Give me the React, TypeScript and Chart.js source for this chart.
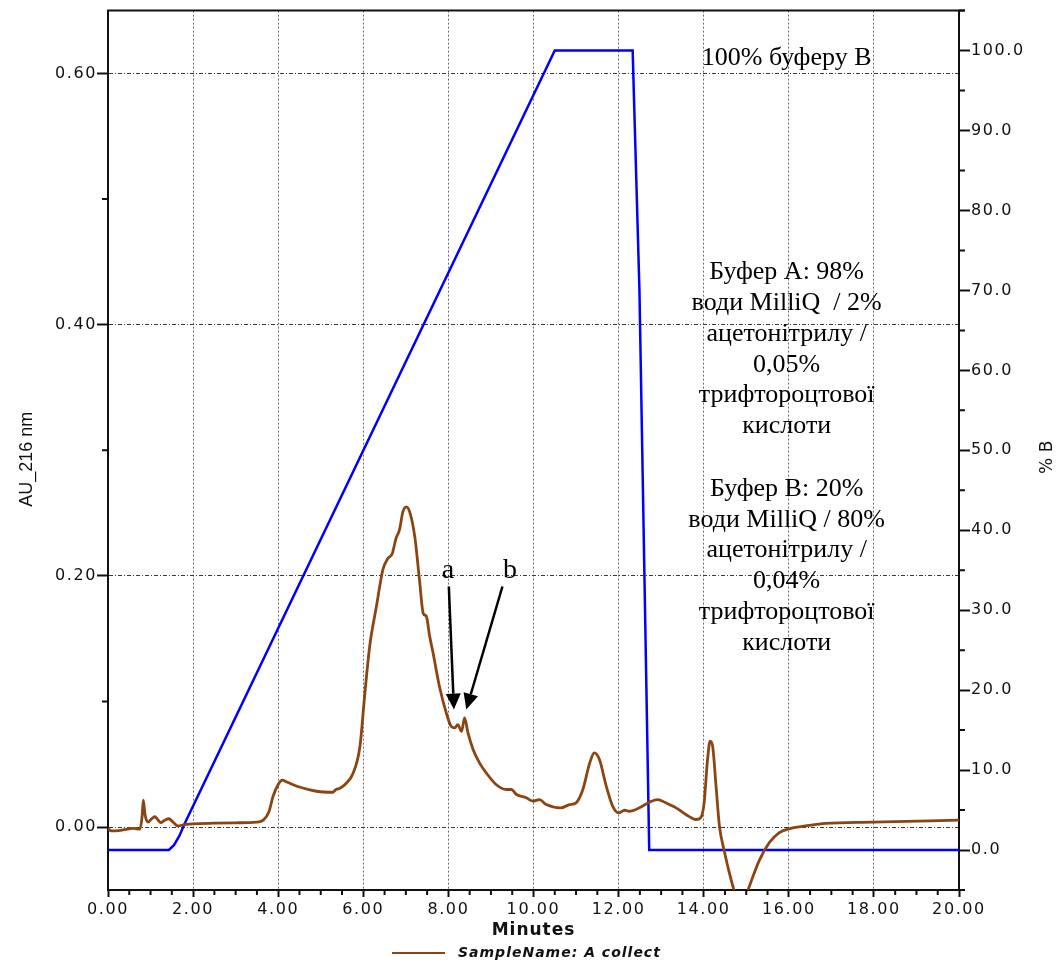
import React, { useEffect, useRef } from 'react';
import { Chart, registerables } from 'chart.js';

Chart.register(...registerables);

// Absorbance trace (AU at 216 nm) vs time (minutes)
const auTime = [
  0.0, 0.08, 0.3, 0.6, 0.75, 0.8, 0.83, 0.87, 0.94, 1.02, 1.1, 1.17, 1.24, 1.33, 1.43, 1.53, 1.64, 1.8,
  2.0, 2.5, 3.0, 3.49, 3.65, 3.78, 3.88, 4.0, 4.1, 4.2, 4.5, 4.9, 5.28, 5.36, 5.45, 5.6, 5.76, 5.92,
  6.03, 6.15, 6.31, 6.46, 6.58, 6.68, 6.74, 6.77, 6.85, 6.93, 7.01, 7.09, 7.21, 7.32, 7.41, 7.48, 7.56,
  7.64, 7.79, 7.95, 8.07, 8.15, 8.22, 8.31, 8.38, 8.46, 8.58, 8.73, 8.89, 9.12, 9.36, 9.48, 9.6, 9.83,
  9.99, 10.14, 10.3, 10.64, 10.85, 11.0, 11.16, 11.32, 11.43, 11.55, 11.71, 11.86, 12.0, 12.14, 12.25,
  12.49, 12.72, 12.92, 13.11, 13.35, 13.58, 13.82, 13.93, 14.01, 14.09, 14.15, 14.21, 14.29, 14.37,
  14.49, 14.6, 14.72, 14.87, 15.03, 15.3, 15.54, 15.77, 16.0, 16.48, 16.87, 17.96, 20.0,
];
const auValue = [
  -0.001, -0.003, -0.0025, -0.001, -0.0015, 0.008, 0.0215, 0.01, 0.004, 0.0065, 0.0083, 0.006, 0.0037,
  0.0055, 0.0067, 0.004, 0.001, 0.002, 0.0027, 0.0032, 0.0035, 0.004, 0.0056, 0.012, 0.0246, 0.034,
  0.0374, 0.036, 0.032, 0.0286, 0.0278, 0.03, 0.031, 0.035, 0.043, 0.064, 0.104, 0.144, 0.176, 0.205,
  0.214, 0.2176, 0.226, 0.23, 0.2367, 0.251, 0.255, 0.251, 0.2313, 0.197, 0.17, 0.168, 0.152, 0.1386,
  0.112, 0.091, 0.08, 0.079, 0.0816, 0.0763, 0.087, 0.075, 0.0618, 0.0512, 0.0432, 0.034, 0.03, 0.03,
  0.026, 0.0234, 0.0207, 0.022, 0.018, 0.0154, 0.018, 0.0194, 0.03, 0.051, 0.0591, 0.0538, 0.0326,
  0.0167, 0.0114, 0.0135, 0.0127, 0.0154, 0.0199, 0.022, 0.0194, 0.0154, 0.0101, 0.0061, 0.0075, 0.0194,
  0.0538, 0.0684, 0.0644, 0.0326, 0.0008, -0.02, -0.036, -0.051, -0.065, -0.051, -0.027, -0.0124,
  -0.0045, -0.0013, 0.0014, 0.003, 0.004, 0.0056,
];

// Gradient program (% buffer B) vs time
const gradTime = [0, 1.43, 1.55, 1.68, 1.8, 10.5, 12.33, 12.49, 12.72, 20];
const gradPercent = [0, 0, 0.6, 1.8, 3.3, 100, 100, 70, 0, 0];

// Axis ticks
const xTicks = [0, 2, 4, 6, 8, 10, 12, 14, 16, 18, 20];
const xMinorTicks = [0.5, 1, 1.5, 2.5, 3, 3.5, 4.5, 5, 5.5, 6.5, 7, 7.5, 8.5, 9, 9.5, 10.5, 11, 11.5, 12.5, 13, 13.5, 14.5, 15, 15.5, 16.5, 17, 17.5, 18.5, 19, 19.5];
const auTicks = [0, 0.2, 0.4, 0.6];
const auMinorTicks = [0.1, 0.3, 0.5];
const pctTicks = [0, 10, 20, 30, 40, 50, 60, 70, 80, 90, 100];
const pctMinorTicks = [-5, 5, 15, 25, 35, 45, 55, 65, 75, 85, 95, 105];

// Text annotations
const topNote = '100% буферу В';
const bufferANote = ['Буфер А: 98%', 'води MilliQ  / 2%', 'ацетонітрилу /', '0,05%', 'трифтороцтової', 'кислоти'];
const bufferBNote = ['Буфер В: 20%', 'води MilliQ / 80%', 'ацетонітрилу /', '0,04%', 'трифтороцтової', 'кислоти'];
const peakLabels = ['a', 'b'];
const peakLabelTime = [7.99, 9.45];
const peakLabelAU = [0.1985, 0.1985];
const arrowFromTime = [8.01, 9.27];
const arrowFromAU = [0.1916, 0.1916];
const arrowToTime = [8.13, 8.42];
const arrowToAU = [0.0936, 0.0936];

const BROWN = '#8B4513';
const BLUE = '#0000FF';
const TICK_FONT = { family: "'DejaVu Sans', sans-serif", size: 16 };
const TICK_SPACING = '1.6px';

const decorPlugin = {
  id: 'decor',
  beforeLayout(chart: any) {
    chart.ctx.letterSpacing = TICK_SPACING;
  },
  beforeDraw(chart: any) {
    chart.ctx.letterSpacing = TICK_SPACING;
  },
  afterDraw(chart: any) {
    const ctx: CanvasRenderingContext2D = chart.ctx;
    const { left, right, top, bottom } = chart.chartArea;
    const xs = chart.scales.x;
    const ys = chart.scales.y;
    const ys1 = chart.scales.y1;
    ctx.save();
    (ctx as any).letterSpacing = '0px';

    // top frame
    ctx.strokeStyle = '#111';
    ctx.lineWidth = 2;
    ctx.beginPath();
    ctx.moveTo(left - 1, top);
    ctx.lineTo(right + 6, top);
    ctx.stroke();

    // minor ticks
    ctx.beginPath();
    xMinorTicks.forEach((v) => {
      const px = xs.getPixelForValue(v);
      ctx.moveTo(px, bottom);
      ctx.lineTo(px, bottom + 5);
    });
    auMinorTicks.forEach((v) => {
      const py = ys.getPixelForValue(v);
      ctx.moveTo(left, py);
      ctx.lineTo(left - 6, py);
    });
    pctMinorTicks.forEach((v) => {
      const py = ys1.getPixelForValue(v);
      ctx.moveTo(right, py);
      ctx.lineTo(right + 6, py);
    });
    ctx.stroke();

    // axis titles
    ctx.fillStyle = '#111';
    ctx.textAlign = 'center';
    ctx.textBaseline = 'middle';
    ctx.save();
    ctx.translate(27, (top + bottom) / 2 + 9);
    ctx.rotate(-Math.PI / 2);
    ctx.font = "18px 'Liberation Sans Narrow', 'Liberation Sans', sans-serif";
    ctx.fillText('AU_216 nm', 0, 0);
    ctx.restore();

    ctx.save();
    ctx.translate(1048, (top + bottom) / 2 + 7);
    ctx.rotate(-Math.PI / 2);
    ctx.font = "17px 'DejaVu Sans', sans-serif";
    ctx.fillText('% B', 0, 0);
    ctx.restore();

    ctx.save();
    (ctx as any).letterSpacing = '1px';
    ctx.font = "bold 17px 'DejaVu Sans', sans-serif";
    ctx.fillText('Minutes', (left + right) / 2, bottom + 41);
    ctx.restore();

    // legend
    ctx.strokeStyle = BROWN;
    ctx.lineWidth = 2;
    ctx.beginPath();
    ctx.moveTo(392, bottom + 63);
    ctx.lineTo(445, bottom + 63);
    ctx.stroke();
    ctx.save();
    (ctx as any).letterSpacing = '1px';
    ctx.textAlign = 'left';
    ctx.font = "italic bold 14px 'DejaVu Sans', sans-serif";
    ctx.fillStyle = '#111';
    ctx.fillText('SampleName: A collect', 458, bottom + 63);
    ctx.restore();

    // buffer notes
    ctx.fillStyle = '#000';
    ctx.font = "26px 'Liberation Serif', 'Times New Roman', serif";
    const noteX = xs.getPixelForValue(15.95);
    ctx.fillText(topNote, noteX, ys.getPixelForValue(0.612));
    const lh = 30.8;
    const aTop = ys.getPixelForValue(0.4417);
    bufferANote.forEach((s, i) => ctx.fillText(s, noteX, aTop + i * lh));
    const bTop = ys.getPixelForValue(0.2692);
    bufferBNote.forEach((s, i) => ctx.fillText(s, noteX, bTop + i * lh));

    // peak labels and arrows
    ctx.font = "28px 'Liberation Serif', 'Times New Roman', serif";
    ctx.textBaseline = 'alphabetic';
    peakLabels.forEach((s, i) => {
      ctx.fillStyle = '#000';
      ctx.fillText(s, xs.getPixelForValue(peakLabelTime[i]), ys.getPixelForValue(peakLabelAU[i]));
      const x1 = xs.getPixelForValue(arrowFromTime[i]);
      const y1 = ys.getPixelForValue(arrowFromAU[i]);
      const x2 = xs.getPixelForValue(arrowToTime[i]);
      const y2 = ys.getPixelForValue(arrowToAU[i]);
      const ang = Math.atan2(y2 - y1, x2 - x1);
      const headLen = 16;
      const headW = 7.5;
      const bx = x2 - headLen * Math.cos(ang);
      const by = y2 - headLen * Math.sin(ang);
      ctx.strokeStyle = '#000';
      ctx.lineWidth = 2.5;
      ctx.beginPath();
      ctx.moveTo(x1, y1);
      ctx.lineTo(bx, by);
      ctx.stroke();
      ctx.beginPath();
      ctx.moveTo(x2, y2);
      ctx.lineTo(bx + headW * Math.sin(ang), by - headW * Math.cos(ang));
      ctx.lineTo(bx - headW * Math.sin(ang), by + headW * Math.cos(ang));
      ctx.closePath();
      ctx.fill();
    });

    ctx.restore();
    (ctx as any).letterSpacing = TICK_SPACING;
  },
};

const transparent = 'rgba(0,0,0,0)';

export default function App() {
  const ref = useRef<HTMLCanvasElement>(null);

  useEffect(() => {
    const canvas = ref.current;
    if (!canvas) return;
    const chart = new Chart(canvas, {
      type: 'line',
      data: {
        datasets: [
          {
            label: 'SampleName: A collect',
            data: auTime.map((t, i) => ({ x: t, y: auValue[i] })),
            yAxisID: 'y',
            borderColor: BROWN,
            borderWidth: 2.8,
            pointRadius: 0,
            cubicInterpolationMode: 'monotone',
            fill: false,
          },
          {
            label: '% B',
            data: gradTime.map((t, i) => ({ x: t, y: gradPercent[i] })),
            yAxisID: 'y1',
            borderColor: BLUE,
            borderWidth: 2.5,
            pointRadius: 0,
            tension: 0,
            fill: false,
          },
        ],
      },
      options: {
        animation: false,
        responsive: false,
        maintainAspectRatio: false,
        devicePixelRatio: 1,
        layout: { padding: { top: 10, left: 0, right: 0, bottom: 0 } },
        plugins: { legend: { display: false }, tooltip: { enabled: false } },
        elements: { point: { radius: 0 } },
        scales: {
          x: {
            type: 'linear',
            position: 'bottom',
            min: 0,
            max: 20,
            afterBuildTicks: (axis: any) => {
              axis.ticks = xTicks.map((v) => ({ value: v }));
            },
            afterFit: (axis: any) => {
              axis.height = 73;
            },
            ticks: {
              callback: (v: any) => Number(v).toFixed(2),
              font: TICK_FONT,
              color: '#111',
              padding: 3,
              maxRotation: 0,
              autoSkip: false,
            },
            grid: {
              color: (c: any) => (c.tick && (c.tick.value === 0 || c.tick.value === 20) ? transparent : '#6a6a6a'),
              lineWidth: 1,
              tickLength: 7,
              tickWidth: 2,
              tickColor: '#111',
              tickBorderDash: [],
            },
            border: { display: true, color: '#111', width: 2, dash: [2, 2] },
          },
          y: {
            type: 'linear',
            position: 'left',
            min: -0.05,
            max: 0.65,
            afterBuildTicks: (axis: any) => {
              axis.ticks = auTicks.map((v) => ({ value: v }));
            },
            afterFit: (axis: any) => {
              axis.width = 108;
            },
            ticks: {
              callback: (v: any) => Number(v).toFixed(2),
              font: TICK_FONT,
              color: '#111',
              padding: 0,
              autoSkip: false,
            },
            grid: {
              color: '#3a3a3a',
              lineWidth: 1,
              tickLength: 11,
              tickWidth: 2,
              tickColor: '#111',
              tickBorderDash: [],
            },
            border: { display: true, color: '#111', width: 2, dash: [4, 2, 1, 2] },
          },
          y1: {
            type: 'linear',
            position: 'right',
            min: -5,
            max: 105,
            afterBuildTicks: (axis: any) => {
              axis.ticks = pctTicks.map((v) => ({ value: v }));
            },
            afterFit: (axis: any) => {
              axis.width = 104;
            },
            ticks: {
              callback: (v: any) => Number(v).toFixed(1),
              font: TICK_FONT,
              color: '#111',
              padding: 1,
              autoSkip: false,
            },
            grid: {
              drawOnChartArea: false,
              tickLength: 11,
              tickWidth: 2,
              tickColor: '#111',
              tickBorderDash: [],
            },
            border: { display: true, color: '#111', width: 2 },
          },
        },
      } as any,
      plugins: [decorPlugin],
    } as any);
    return () => chart.destroy();
  }, []);

  return (
    <div style={{ position: 'absolute', left: 0, top: 0, width: 1063, height: 963 }}>
      <canvas ref={ref} width={1063} height={963} style={{ display: 'block', width: 1063, height: 963 }} />
    </div>
  );
}
